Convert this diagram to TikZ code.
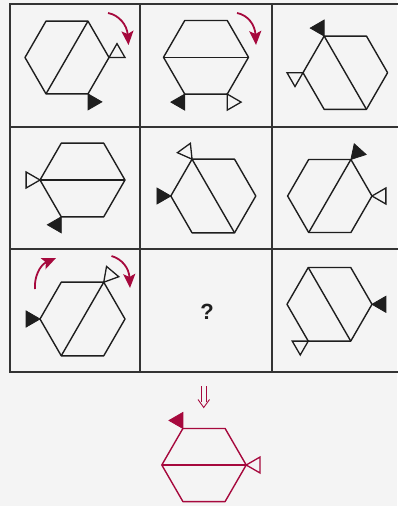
\documentclass[tikz,border=0pt]{standalone}
\usepackage{fontspec}
\setsansfont{Liberation Sans}
\usetikzlibrary{arrows.meta}
\definecolor{bg}{HTML}{F4F4F4}
\definecolor{gridc}{HTML}{333333}
\definecolor{crim}{HTML}{A6093D}
\definecolor{ink}{HTML}{1E1E1E}
\newcommand\hexat[5][ink]{% color, name, cx, cy, R
  \foreach \k in {0,...,5}{\coordinate (#2-\k) at ([shift={(\k*60:#5)}]#3,#4);}
  \draw[hexline,draw=#1] (#2-0) -- (#2-1) -- (#2-2) -- (#2-3) -- (#2-4) -- (#2-5) -- cycle;
}
\newcommand\trito[3]{% vertex, bisector, style
  \draw[#3] (#1) -- ([shift={(#2-30:16)}]#1) -- ([shift={(#2+30:16)}]#1) -- cycle;
}
\begin{document}
\begin{tikzpicture}[x=1pt,y=-1pt,
  hexline/.style={line width=1.4pt,line join=round},
  diag/.style={line width=1.4pt},
  blacktri/.style={fill=ink,draw=ink,line width=0.8pt,line join=miter},
  whitetri/.style={fill=bg,draw=ink,line width=1.3pt,line join=miter},
  gridline/.style={draw=gridc,line width=2pt},
  rot/.style={draw=crim,line width=1.8pt,-{Stealth[length=14pt,width=12pt,inset=3pt]}}]
\useasboundingbox (0,0) rectangle (397,506);
\fill[bg] (0,0) rectangle (397,506);
% grid
\foreach \yy in {4,127,249,372}{\draw[gridline] (9,\yy) -- (398,\yy);}
\foreach \xx in {10,140,272}{\draw[gridline] (\xx,3) -- (\xx,373);}
% cell 1
\hexat{a}{67}{57.5}{42}
\draw[diag,ink] (a-5) -- (a-2);
\trito{a-1}{60}{blacktri}
\trito{a-0}{-30}{whitetri}
\coordinate (r1s) at (108,13); \coordinate (r1e) at (128.5,45);
\draw[rot] (r1s) .. controls (119,15) and (127,25) .. (r1e);
% cell 2
\hexat{b}{206}{57.3}{42.5}
\draw[diag,ink] (b-0) -- (b-3);
\trito{b-2}{120}{blacktri}
\trito{b-1}{60}{whitetri}
\coordinate (r2s) at (237,13); \coordinate (r2e) at (256,45);
\draw[rot] (r2s) .. controls (248,15) and (255,25) .. (r2e);
% cell 3
\hexat{c}{345.3}{72.7}{42.3}
\draw[diag,ink] (c-4) -- (c-1);
\trito{c-4}{240}{blacktri}
\trito{c-3}{150}{whitetri}
% cell 4
\hexat{d}{82.5}{180}{42.5}
\draw[diag,ink] (d-0) -- (d-3);
\trito{d-3}{180}{whitetri}
\trito{d-2}{120}{blacktri}
% cell 5
\hexat{e}{213.3}{196}{42.5}
\draw[diag,ink] (e-4) -- (e-1);
\trito{e-3}{180}{blacktri}
\trito{e-4}{234}{whitetri}
% cell 6
\hexat{f}{329.8}{196}{42.2}
\draw[diag,ink] (f-5) -- (f-2);
\trito{f-5}{312}{blacktri}
\trito{f-0}{0}{whitetri}
% cell 7
\hexat{g}{82.5}{319}{42.5}
\draw[diag,ink] (g-5) -- (g-2);
\trito{g-3}{180}{blacktri}
\trito{g-5}{310}{whitetri}
\coordinate (r3s) at (111.5,256); \coordinate (r3e) at (130,288);
\draw[rot] (r3s) .. controls (122,259) and (129,268) .. (r3e);
\coordinate (r4s) at (35,289); \coordinate (r4e) at (56,258);
\draw[rot] (r4s) .. controls (34,277) and (40,265) .. (r4e);
% cell 8
\node[font=\sffamily\bfseries\fontsize{22}{22}\selectfont,text=ink] (q) at (207,312) {?};
% cell 9
\hexat{h}{329.5}{304.3}{42.5}
\draw[diag,ink] (h-4) -- (h-1);
\trito{h-0}{0}{blacktri}
\trito{h-2}{150}{whitetri}
% down arrow
\begin{scope}[draw=crim,line width=0.9pt,line join=miter]
\draw (201,386) -- (201,401.5);
\draw (206.5,386) -- (206.5,401.5);
\draw (198,399.5) -- (203.75,407.5) -- (209.5,399.5);
\end{scope}
% answer
\hexat[crim]{k}{204}{465}{42.2}
\draw[diag,crim] (k-0) -- (k-3);
\trito{k-4}{240}{fill=crim,draw=crim,line width=0.8pt}
\trito{k-0}{0}{fill=bg,draw=crim,line width=1.3pt}
\end{tikzpicture}
\end{document}
